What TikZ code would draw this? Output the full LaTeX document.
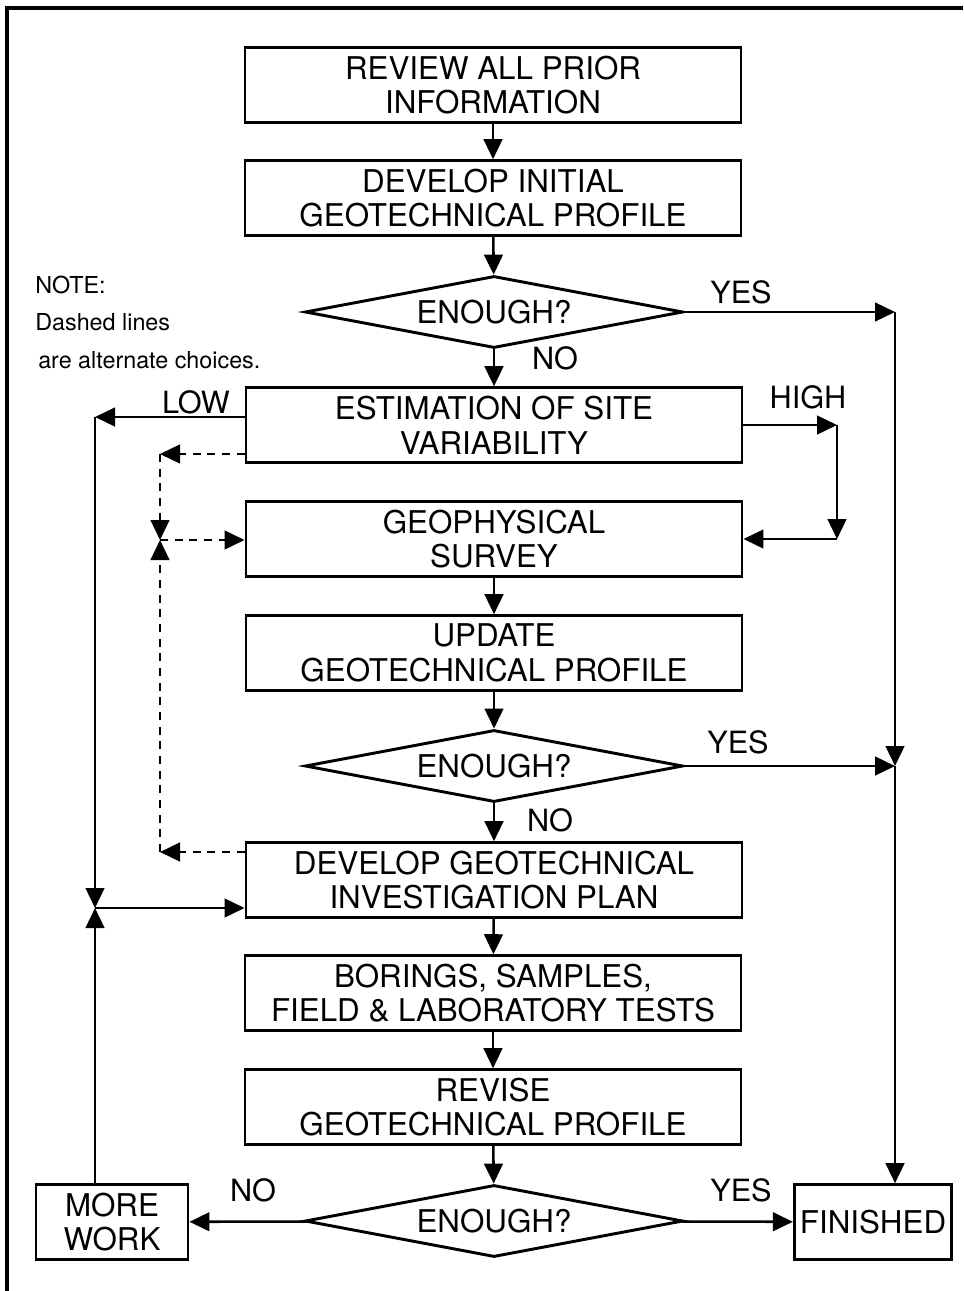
\documentclass[tikz,border=0pt]{standalone}
\usepackage{fontspec}
\setmainfont{TeX Gyre Heros}
\usetikzlibrary{shapes.geometric,arrows.meta}

\begin{document}
\begin{tikzpicture}[x=0.75pt,y=0.75pt,yscale=-1,xscale=1,
  procbox/.style={draw,line width=2.2pt,minimum width=372pt,minimum height=56pt,inner sep=1pt,align=center,font=\fontsize{23.5}{26}\selectfont},
  endbox/.style={draw,line width=2.2pt,minimum height=56pt,inner sep=1pt,align=center,font=\fontsize{23.5}{26}\selectfont},
  decide/.style={draw,diamond,aspect=5.25,line width=2.2pt,inner sep=0pt,minimum width=283.5pt,minimum height=54pt,font=\fontsize{23.5}{26}\selectfont},
  flow/.style={line width=1.9pt,-{Triangle[length=15pt,width=14pt]}},
  alt/.style={flow,dashed,dash pattern=on 6pt off 5pt},
  answer/.style={inner sep=0.75pt,font=\fontsize{23}{26}\selectfont},
  notetext/.style={anchor=west,inner sep=0.75pt,font=\fontsize{17.5}{20}\selectfont}]
\useasboundingbox (0,0) rectangle (963,1291);

%Frame
\draw [line width=3pt] (7,1291) -- (7,8) -- (963,8) ;

%Shapes: main column
\node [procbox] (review) at (493,85) {REVIEW ALL PRIOR\\INFORMATION};
\node [procbox] (devinit) at (493,198) {DEVELOP INITIAL\\GEOTECHNICAL PROFILE};
\node [decide] (enough1) at (494,312) {ENOUGH?};
\node [procbox] (estim) at (494,425) {ESTIMATION OF SITE\\VARIABILITY};
\node [procbox] (geophys) at (494,539) {GEOPHYSICAL\\SURVEY};
\node [procbox] (update) at (494,653) {UPDATE\\GEOTECHNICAL PROFILE};
\node [decide] (enough2) at (494,766) {ENOUGH?};
\node [procbox] (plan) at (494,880) {DEVELOP GEOTECHNICAL\\INVESTIGATION PLAN};
\node [procbox] (borings) at (493,993) {BORINGS, SAMPLES,\\FIELD \& LABORATORY TESTS};
\node [procbox] (revise) at (493,1107) {REVISE\\GEOTECHNICAL PROFILE};
\node [decide] (enough3) at (494,1221) {ENOUGH?};
\node [endbox,minimum width=114pt] (morework) at (112,1222) {MORE\\WORK};
\node [endbox,minimum width=118pt] (finished) at (873,1222) {FINISHED};

%Corner points
\coordinate (yes1) at (895,312);
\coordinate (yes2) at (895,766);
\coordinate (hiR) at (837,425);
\coordinate (hiD) at (837,539);
\coordinate (lowT) at (95,417);
\coordinate (lowJ) at (95,908);
\coordinate (altT) at (160,454);
\coordinate (altJ) at (160,540);
\coordinate (altB) at (160,852);

%Straight Lines: main column
\draw [flow] (review) -- (devinit);
\draw [flow] (devinit) -- (enough1);
\draw [flow] (enough1) -- (estim);
\draw [flow] (geophys) -- (update);
\draw [flow] (update) -- (enough2);
\draw [flow] (enough2) -- (plan);
\draw [flow] (plan) -- (borings);
\draw [flow] (borings) -- (revise);
\draw [flow] (revise) -- (enough3);
\draw [flow] (enough3) -- (morework);
\draw [flow] (enough3) -- (finished);

%Straight Lines: yes branch
\draw [flow] (enough1.east) -- (yes1);
\draw [flow] (yes1) -- (yes2);
\draw [flow] (enough2.east) -- (yes2);
\draw [flow] (yes2) -- (yes2 |- finished.north);

%Straight Lines: high branch
\draw [flow] (estim.east) -- (hiR);
\draw [flow] (hiR) -- (hiD);
\draw [flow] (hiD) -- (geophys.east);

%Straight Lines: low branch
\draw [flow] (estim.west |- lowT) -- (lowT);
\draw [flow] (lowT) -- (lowJ);
\draw [flow] (morework.north -| lowJ) -- (lowJ);
\draw [flow] (lowJ) -- (lowJ -| plan.west);

%Dashed Lines: alternate choices
\draw [alt] (estim.west |- altT) -- (altT);
\draw [alt] (altT) -- (altJ);
\draw [alt] (altB) -- (altJ);
\draw [alt] (altJ) -- (altJ -| geophys.west);
\draw [alt] (plan.west |- altB) -- (altB);

% Text Node
\node [answer] (y1) at (741,292) {YES};
\node [answer] (n1) at (555,358) {NO};
\node [answer] (lo) at (196,402) {LOW};
\node [answer] (hi) at (808,397) {HIGH};
\node [answer] (y2) at (738,742) {YES};
\node [answer] (n2) at (550,820) {NO};
\node [answer] (n3) at (253,1190) {NO};
\node [answer] (y3) at (741,1190) {YES};

% Text Node
\node [notetext] (note1) at (34,285) {NOTE:};
\node [notetext] (note2) at (34,322) {Dashed lines};
\node [notetext] (note3) at (37,360) {are alternate choices.};

\end{tikzpicture}
\end{document}
